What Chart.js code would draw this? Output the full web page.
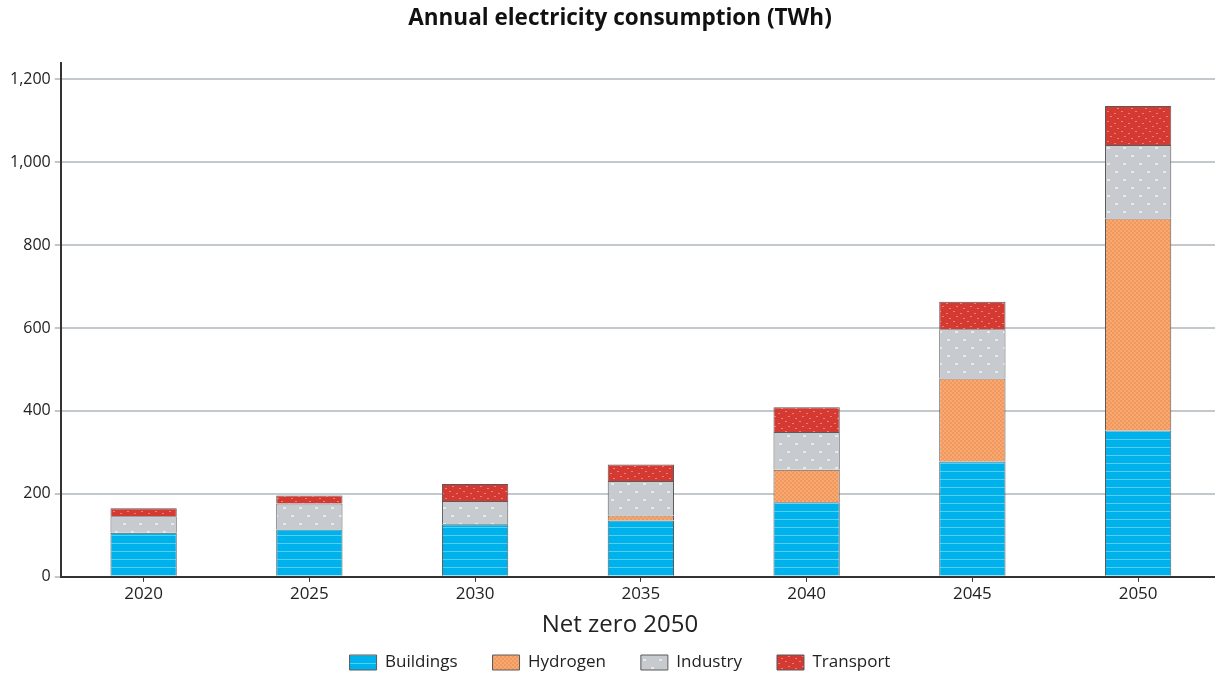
<!DOCTYPE html>
<html lang="en">
<head>
    <meta charset="UTF-8">
    <title>Annual electricity consumption</title>
    <script src="https://cdn.jsdelivr.net/npm/chart.js"></script>
    <style>
        html, body { margin: 0; padding: 0; background: #fff; overflow: hidden; }
        #wrap { width: 1240px; height: 677px; }
    </style>
</head>
<body>
    <div id="wrap"><canvas id="chart"></canvas></div>
    <script>
        var years = ['2020', '2025', '2030', '2035', '2040', '2045', '2050'];
        var buildings = [106, 114, 127, 136, 180, 278, 353];
        var hydrogen = [0, 0, 0, 12, 78, 200, 511];
        var industry = [40, 63, 56, 83, 91, 119, 177];
        var transport = [19, 19, 41, 40, 60, 66, 94];
        var yTicks = [0, 200, 400, 600, 800, 1000, 1200];

        var FONT = '"Open Sans", Lato, sans-serif';
        var X_TITLE = 'Net zero 2050';

        function makePattern(w, h, bg, draw) {
            var c = document.createElement('canvas');
            c.width = w; c.height = h;
            var g = c.getContext('2d');
            g.fillStyle = bg;
            g.fillRect(0, 0, w, h);
            draw(g);
            return g.createPattern(c, 'repeat');
        }

        var ctx = document.getElementById('chart').getContext('2d');

        // horizontal light stripes
        var blueFill = makePattern(8, 8, '#00b2ec', function (g) {
            g.fillStyle = '#56cdf3';
            g.fillRect(0, 7, 8, 1);
        });
        // small checker
        var orangeFill = makePattern(4, 4, '#f9a870', function (g) {
            g.fillStyle = '#ef9860';
            g.fillRect(0, 0, 2, 2);
            g.fillRect(2, 2, 2, 2);
        });
        // staggered dots
        var greyFill = makePattern(16, 16, '#c7cbcf', function (g) {
            g.fillStyle = '#e6e9eb';
            g.fillRect(3, 3, 3, 2);
            g.fillRect(11, 11, 3, 2);
        });
        // speckles
        var redFill = makePattern(14, 10, '#d43a32', function (g) {
            g.fillStyle = '#ea8078';
            g.fillRect(1, 1, 2, 1);
            g.fillRect(8, 3, 2, 1);
            g.fillRect(4, 6, 2, 1);
            g.fillRect(11, 8, 2, 1);
        });

        function ds(label, data, fill) {
            return {
                label: label,
                data: data,
                backgroundColor: fill,
                borderColor: '#5a5a5a',
                borderWidth: 1,
                barPercentage: 0.4,
                categoryPercentage: 1
            };
        }

        // title, legend and x axis title sit on the centre of the whole figure
        var centreFigure = {
            id: 'centreFigure',
            afterLayout: function (chart) {
                [chart.titleBlock, chart.legend].forEach(function (box) {
                    if (!box) return;
                    var d = chart.width / 2 - (box.left + box.right) / 2;
                    box.left += d;
                    box.right += d;
                });
            },
            afterDraw: function (chart) {
                var sx = chart.scales.x;
                var c = chart.ctx;
                c.save();
                c.font = '24px ' + FONT;
                c.fillStyle = '#222';
                c.textAlign = 'center';
                c.textBaseline = 'middle';
                c.fillText(X_TITLE, chart.width / 2, sx.bottom - 14.4 + 21);
                c.restore();
            }
        };

        new Chart(ctx, {
            type: 'bar',
            data: {
                labels: years,
                datasets: [
                    ds('Buildings', buildings, blueFill),
                    ds('Hydrogen', hydrogen, orangeFill),
                    ds('Industry', industry, greyFill),
                    ds('Transport', transport, redFill)
                ]
            },
            plugins: [centreFigure],
            options: {
                responsive: true,
                maintainAspectRatio: false,
                animation: false,
                layout: { padding: { left: 6, right: 19, top: 0, bottom: -4 } },
                plugins: {
                    title: {
                        display: true,
                        text: 'Annual electricity consumption (TWh)',
                        color: '#111',
                        font: { family: FONT, size: 22.5, weight: 'bold' },
                        padding: { top: 5.5, bottom: 30 }
                    },
                    legend: {
                        position: 'bottom',
                        labels: {
                            boxWidth: 27,
                            boxHeight: 15,
                            color: '#222',
                            padding: 35,
                            font: { family: FONT, size: 17 }
                        }
                    },
                    tooltip: { enabled: false }
                },
                scales: {
                    x: {
                        stacked: true,
                        grid: {
                            display: true,
                            offset: false,
                            drawOnChartArea: false,
                            drawTicks: true,
                            tickLength: 5,
                            color: '#333'
                        },
                        border: { color: '#333', width: 2 },
                        ticks: {
                            color: '#222',
                            font: { family: FONT, size: 17 },
                            padding: 2
                        },
                        title: {
                            display: true,
                            text: X_TITLE,
                            color: 'rgba(0,0,0,0)',
                            font: { family: FONT, size: 24 },
                            padding: { top: 5, bottom: -21 }
                        }
                    },
                    y: {
                        stacked: true,
                        min: 0,
                        max: 1240,
                        afterBuildTicks: function (scale) {
                            scale.ticks = yTicks.map(function (v) { return { value: v }; });
                        },
                        grid: {
                            color: '#c3c8cc',
                            lineWidth: 2,
                            tickLength: 6
                        },
                        border: { color: '#333', width: 2 },
                        ticks: {
                            color: '#222',
                            font: { family: FONT, size: 16 },
                            padding: 4,
                            callback: function (v) { return v.toLocaleString('en-US'); }
                        }
                    }
                }
            }
        });
    </script>
</body>
</html>
